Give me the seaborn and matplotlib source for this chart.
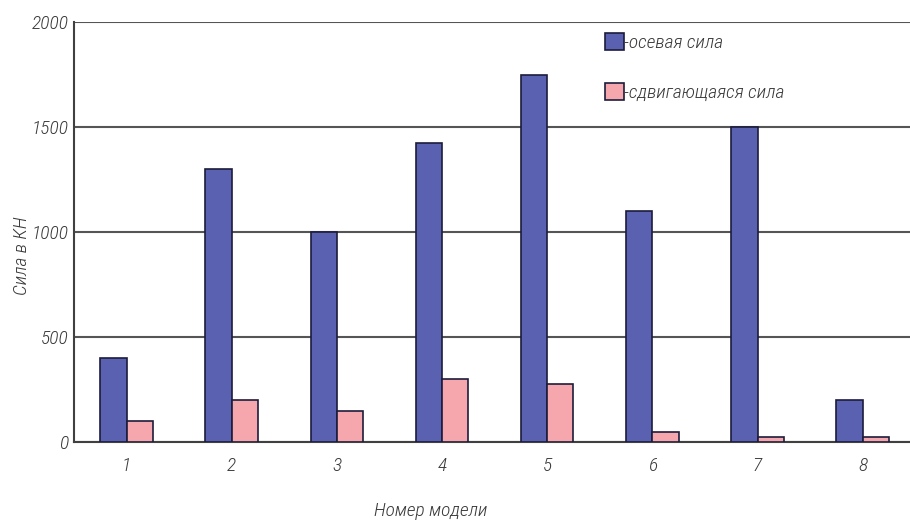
#!/usr/bin/env python3
"""Bar chart: axial and shear force per model number."""

import matplotlib

matplotlib.use("Agg")
import matplotlib.pyplot as plt
import pandas as pd
import seaborn as sns
from matplotlib.patches import Patch

models = ["1", "2", "3", "4", "5", "6", "7", "8"]
axial_force = [400, 1300, 1000, 1425, 1750, 1100, 1500, 200]
shear_force = [100, 200, 150, 300, 275, 50, 25, 25]
series_names = ["осевая сила", "сдвигающаяся сила"]
y_ticks = [0, 500, 1000, 1500, 2000]

BLUE = "#5a61b0"
PINK = "#f5a7ad"
EDGE = "#1c1c3c"
TEXT = "#3a3a3a"


def main():
    df = pd.DataFrame(
        {
            "model": models * 2,
            "force": axial_force + shear_force,
            "series": [series_names[0]] * len(models) + [series_names[1]] * len(models),
        }
    )

    sns.set_style("white")
    plt.rcParams["font.family"] = ["Roboto Condensed", "DejaVu Sans"]
    plt.rcParams["font.style"] = "italic"
    plt.rcParams["font.weight"] = "light"

    fig = plt.figure(figsize=(9.10, 5.24), dpi=100)
    ax = fig.add_axes([74 / 910, 82 / 524, 836 / 910, 420 / 524])

    sns.barplot(
        data=df,
        x="model",
        y="force",
        hue="series",
        order=models,
        hue_order=series_names,
        palette=[BLUE, PINK],
        width=0.5,
        edgecolor=EDGE,
        linewidth=1.2,
        saturation=1,
        ax=ax,
        zorder=3,
    )

    ax.set_ylim(0, 2000)
    ax.set_xlim(-0.5, 7.45)
    ax.set_yticks(y_ticks)
    ax.yaxis.grid(True, color="#555555", linewidth=1.5, zorder=0)
    ax.set_axisbelow(True)
    for side in ["top", "right"]:
        ax.spines[side].set_visible(False)
    for side in ["left", "bottom"]:
        ax.spines[side].set_color("#404040")
        ax.spines[side].set_linewidth(1.5)
    ax.tick_params(axis="both", length=0, labelsize=14, colors=TEXT)
    ax.tick_params(axis="x", pad=11)
    ax.tick_params(axis="y", pad=4)

    ax.set_xlabel("")
    ax.set_ylabel("")
    fig.text(431 / 910, 1 - 511 / 524, "Номер модели", ha="center", va="center",
             fontsize=14, color=TEXT)
    fig.text(22 / 910, 1 - 256 / 524, "Сила в КН", ha="center", va="center",
             rotation=90, fontsize=14, color=TEXT)

    handles = [
        Patch(facecolor=BLUE, edgecolor=EDGE, linewidth=1.2),
        Patch(facecolor=PINK, edgecolor=EDGE, linewidth=1.2),
    ]
    ax.legend(
        handles,
        ["-" + s for s in series_names],
        loc="upper left",
        bbox_to_anchor=(605 / 910, 1 - 33 / 524),
        bbox_transform=fig.transFigure,
        frameon=False,
        fontsize=14,
        handlelength=1.0,
        handleheight=1.0,
        handletextpad=0.0,
        labelspacing=1.55,
        borderaxespad=0,
        borderpad=0,
        labelcolor=TEXT,
    )

    fig.savefig("out.png", dpi=100, facecolor="white")


if __name__ == "__main__":
    main()
